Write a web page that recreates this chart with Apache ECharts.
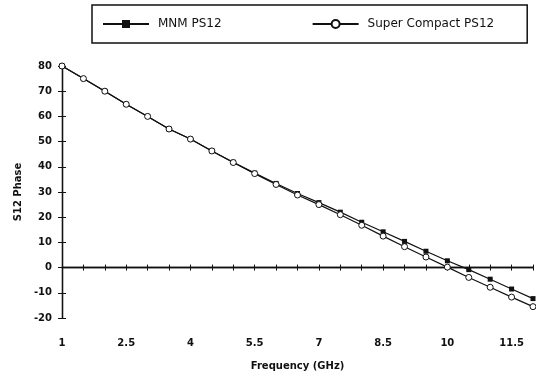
<!DOCTYPE html>
<html>
<head>
<meta charset="utf-8">
<script src="https://cdn.jsdelivr.net/npm/echarts@6/dist/echarts.min.js"></script>
<style>
  html, body { margin: 0; padding: 0; background: #fff; }
  #chart { width: 536px; height: 376px; }
</style>
</head>
<body>
<div id="chart"></div>
<script>
// frequency points, GHz
const freqs = [1, 1.5, 2, 2.5, 3, 3.5, 4, 4.5, 5, 5.5, 6, 6.5, 7, 7.5, 8, 8.5, 9, 9.5, 10, 10.5, 11, 11.5, 12];
const mnmPhase = [80, 75, 70, 64.8, 60, 55, 51, 46.3, 41.8, 37.5, 33.4, 29.4, 25.8, 22, 18, 14.2, 10.4, 6.5, 2.7, -0.8, -4.6, -8.5, -12.3];
const superPhase = [80, 75, 70, 64.8, 60, 55, 51, 46.3, 41.7, 37.3, 33, 28.8, 25, 21, 16.8, 12.5, 8.3, 4.2, 0.2, -3.9, -7.8, -11.7, -15.5];
const xTickLabels = [1, 2.5, 4, 5.5, 7, 8.5, 10, 11.5];
const seriesNames = ["MNM PS12", "Super Compact PS12"];

const font = "DejaVu Sans";
const pairs = (ys) => freqs.map((f, i) => [f, ys[i]]);

const chart = echarts.init(document.getElementById("chart"));

const xBase = { type: "value", min: 1, max: 12, interval: 0.5, splitLine: { show: false } };
const yBase = { type: "value", min: -20, max: 80, interval: 10, position: "left", splitLine: { show: false } };

chart.setOption({
  animation: false,
  backgroundColor: "#fff",
  textStyle: { fontFamily: font, color: "#111" },
  grid: { left: 62, right: 3, top: 66, bottom: 51 },
  legend: {
    data: seriesNames,
    left: 92,
    top: 5,
    padding: [13, 33, 13, 10],
    itemGap: 90,
    itemWidth: 46,
    itemHeight: 10,
    borderColor: "#111",
    borderWidth: 1.5,
    borderRadius: 0,
    textStyle: { fontFamily: font, fontSize: 12, color: "#111", padding: [0, 0, 0, 4] },
  },
  xAxis: [
    // labels only, at the bottom
    {
      ...xBase,
      position: "bottom",
      axisLine: { show: false, onZero: false },
      axisTick: { show: false },
      axisLabel: {
        customValues: xTickLabels,
        margin: 20,
        fontFamily: font,
        fontSize: 10,
        fontWeight: "bold",
        color: "#111",
      },
      name: "Frequency (GHz)",
      nameLocation: "middle",
      nameGap: 43,
      nameTextStyle: { fontFamily: font, fontSize: 10, fontWeight: "bold", color: "#111" },
    },
    // zero line, ticks downward
    {
      ...xBase,
      axisLine: { onZero: true, onZeroAxisIndex: 0, lineStyle: { color: "#111", width: 1.3 } },
      axisTick: { length: 3, lineStyle: { color: "#111" } },
      axisLabel: { show: false },
    },
    // zero line, ticks upward
    {
      ...xBase,
      axisLine: { onZero: true, onZeroAxisIndex: 1, lineStyle: { color: "#111", width: 1.3 } },
      axisTick: { inside: true, length: 3, lineStyle: { color: "#111" } },
      axisLabel: { show: false },
    },
  ],
  yAxis: [
    {
      ...yBase,
      axisLine: { lineStyle: { color: "#111", width: 1.3 } },
      axisTick: { length: 4, lineStyle: { color: "#111" } },
      axisLabel: { margin: 10, fontFamily: font, fontSize: 10, fontWeight: "bold", color: "#111" },
      name: "S12 Phase",
      nameLocation: "middle",
      nameRotate: 90,
      nameGap: 38,
      nameTextStyle: { fontFamily: font, fontSize: 10, fontWeight: "bold", color: "#111" },
    },
    {
      ...yBase,
      axisLine: { show: true, lineStyle: { color: "#111", width: 1.3 } },
      axisTick: { inside: true, length: 4, lineStyle: { color: "#111" } },
      axisLabel: { show: false },
    },
  ],
  series: [
    {
      name: seriesNames[0],
      type: "line",
      data: pairs(mnmPhase),
      symbol: "rect",
      symbolSize: 5,
      lineStyle: { width: 1.2, color: "#111" },
      itemStyle: { color: "#111" },
      z: 2,
    },
    {
      name: seriesNames[1],
      type: "line",
      data: pairs(superPhase),
      symbol: "circle",
      symbolSize: 6,
      lineStyle: { width: 1.2, color: "#111" },
      itemStyle: { color: "#fff", borderColor: "#111", borderWidth: 1 },
      z: 3,
    },
  ],
});
</script>
</body>
</html>
